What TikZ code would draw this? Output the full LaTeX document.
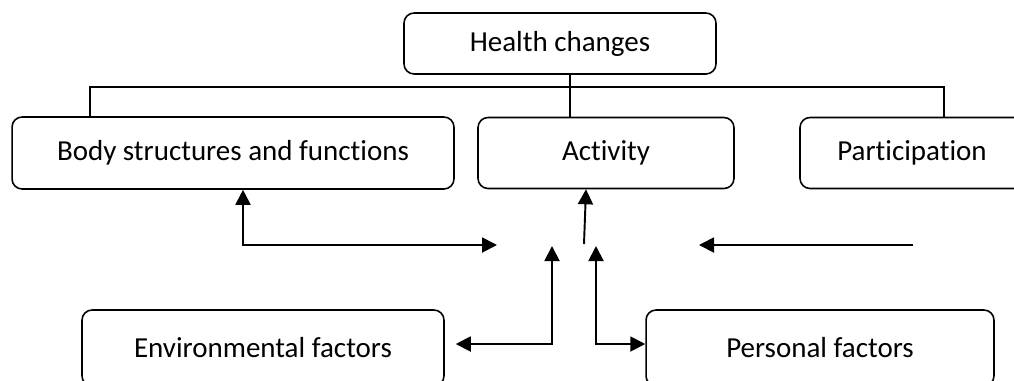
\documentclass[tikz,border=0pt]{standalone}
\usepackage{fontspec}
\setmainfont{Carlito}[Ligatures={NoCommon}]
\usetikzlibrary{arrows.meta}

\begin{document}
\begin{tikzpicture}[x=0.02cm,y=-0.02cm,
    box/.style={draw,line width=0.9pt,rounded corners=0.2cm,inner sep=0pt,font=\fontsize{16.5}{20}\selectfont},
    link/.style={line width=0.6pt},
    oneway/.style={line width=1.1pt,-{Triangle[length=0.3cm,width=0.3cm]}},
    twoway/.style={line width=1.1pt,{Triangle[length=0.3cm,width=0.3cm]}-{Triangle[length=0.3cm,width=0.3cm]}}]
    \useasboundingbox (0,0) rectangle (1014,380);
    \clip (0,0) rectangle (1014,380);

    \node[box,minimum width=6.24cm,minimum height=1.22cm] (health) at (560,43.5) {Health changes};
    \node[box,minimum width=8.84cm,minimum height=1.44cm] (body) at (233,153) {Body structures and functions};
    \node[box,minimum width=5.12cm,minimum height=1.42cm] (activity) at (606,153) {Activity};
    \node[box,minimum width=4.48cm,minimum height=1.42cm] (participation) at (912,153) {Participation};
    \node[box,minimum width=7.24cm,minimum height=1.52cm] (env) at (263,348) {Environmental factors};
    \node[box,minimum width=6.96cm,minimum height=1.52cm] (personal) at (820,348) {Personal factors};

    \coordinate (busL) at (90,87);
    \coordinate (busM) at (570,87);
    \coordinate (busR) at (944,87);
    \draw[link] (health.south -| busM) -- (activity.north -| busM);
    \draw[link] (body.north -| busL) -- (busL) -- (busR) -- (participation.north -| busR);

    \coordinate (cornerB) at (243,245);
    \coordinate (hubW) at (497,245);
    \coordinate (hubN) at (584,244);
    \coordinate (partOut) at (913,245);
    \coordinate (hubE) at (699,245);
    \coordinate (hubSW) at (552,246);
    \coordinate (cornerW) at (552,344);
    \coordinate (hubSE) at (596,246);
    \coordinate (cornerE) at (596,344);

    \draw[twoway] (body.south -| cornerB) -- (cornerB) -- (hubW);
    \draw[oneway] (hubN) -- ([xshift=-0.4cm]activity.south);
    \draw[oneway] (partOut) -- (hubE);
    \draw[twoway,shorten >=0.22cm] (hubSW) -- (cornerW) -- (cornerW -| env.east);
    \draw[twoway] (hubSE) -- (cornerE) -- (cornerE -| personal.west);
\end{tikzpicture}
\end{document}
